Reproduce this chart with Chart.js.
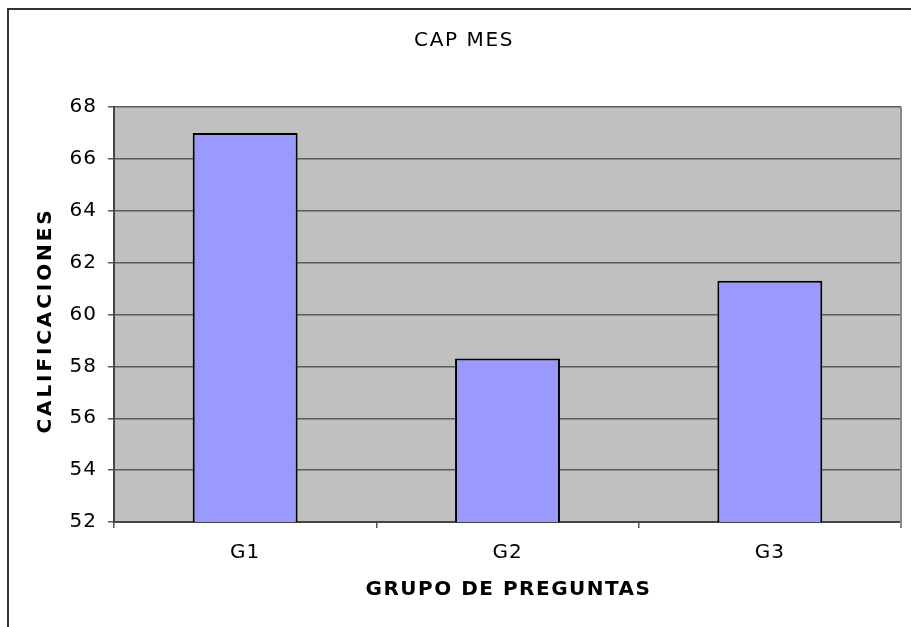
<!DOCTYPE html>
<html lang="es">
<head>
<meta charset="UTF-8">
<title>CAP MES</title>
<script src="https://cdn.jsdelivr.net/npm/chart.js"></script>
<style>
  html, body { margin: 0; padding: 0; background: #fff; }
  #wrap { width: 911px; height: 627px; }
</style>
</head>
<body>
<div id="wrap"><canvas id="capChart"></canvas></div>
<script>
// data
const grupos = ['G1', 'G2', 'G3'];
const calificaciones = [67, 58.3, 61.3];
const yMin = 52;
const yMax = 68;
const yStep = 2;

const titulo = 'CAP MES';
const tituloX = 'GRUPO DE PREGUNTAS';
const tituloY = 'CALIFICACIONES';

const FONT = '"DejaVu Sans", Verdana, sans-serif';

// outer frame, grey plot area and the spaced-out titles
const framePlugin = {
  id: 'frame',
  beforeDraw(chart) {
    const { ctx, chartArea: a } = chart;
    ctx.save();
    ctx.fillStyle = '#fff';
    ctx.fillRect(0, 0, chart.width, chart.height);
    ctx.strokeStyle = '#333';
    ctx.lineWidth = 2;
    ctx.strokeRect(8, 9, 1200, 1200);
    ctx.fillStyle = '#c0c0c0';
    ctx.fillRect(a.left, a.top, a.right - a.left, a.bottom - a.top);
    ctx.restore();
    ctx.letterSpacing = '1px';
  },
  afterDraw(chart) {
    const { ctx, chartArea: a } = chart;
    ctx.save();
    ctx.strokeStyle = '#888';
    ctx.lineWidth = 2;
    ctx.beginPath();
    ctx.moveTo(a.right, a.top);
    ctx.lineTo(a.right, a.bottom + 6);
    ctx.stroke();

    ctx.fillStyle = '#000';
    ctx.textAlign = 'center';
    ctx.textBaseline = 'middle';

    ctx.letterSpacing = '1.6px';
    ctx.font = '20px ' + FONT;
    ctx.fillText(titulo, 464, 41);

    ctx.letterSpacing = '1.5px';
    ctx.font = 'bold 20px ' + FONT;
    ctx.fillText(tituloX, (a.left + a.right) / 2 + 1, 590);

    ctx.letterSpacing = '2.9px';
    ctx.translate(46, 322);
    ctx.rotate(-Math.PI / 2);
    ctx.fillText(tituloY, 1.5, 0);
    ctx.restore();
  }
};

new Chart(document.getElementById('capChart'), {
  type: 'bar',
  data: {
    labels: grupos,
    datasets: [{
      label: tituloY,
      data: calificaciones,
      backgroundColor: '#9999ff',
      borderColor: '#000',
      borderWidth: 2,
      borderSkipped: false,
      barPercentage: 0.4,
      categoryPercentage: 1
    }]
  },
  options: {
    responsive: true,
    maintainAspectRatio: false,
    animation: false,
    layout: { padding: { top: 107, right: 10, left: 0, bottom: 0 } },
    plugins: {
      legend: { display: false },
      tooltip: { enabled: false }
    },
    scales: {
      x: {
        afterFit(scale) { scale.height = 105; },
        grid: {
          offset: true,
          drawOnChartArea: false,
          drawTicks: true,
          tickLength: 6,
          color: '#555',
          lineWidth: 1.5
        },
        border: { display: true, color: '#444', width: 2 },
        ticks: {
          color: '#000',
          padding: 13,
          font: { family: FONT, size: 20 }
        }
      },
      y: {
        min: yMin,
        max: yMax,
        afterFit(scale) { scale.width = 114; },
        grid: {
          color: '#5a5a5a',
          lineWidth: 1.5,
          tickLength: 6
        },
        border: { display: true, color: '#444', width: 2 },
        ticks: {
          stepSize: yStep,
          color: '#000',
          padding: 11,
          font: { family: FONT, size: 20 }
        }
      }
    }
  },
  plugins: [framePlugin]
});
</script>
</body>
</html>
